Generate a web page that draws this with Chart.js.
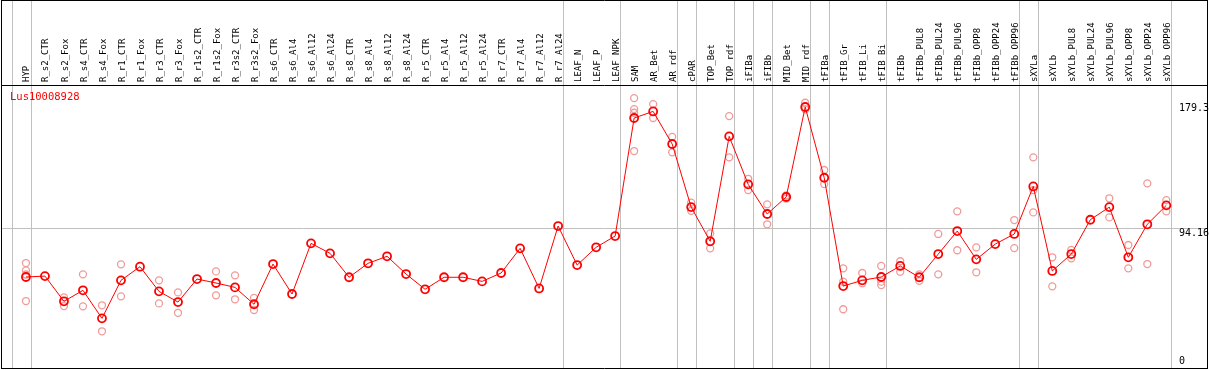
<!DOCTYPE html>
<html>
<head>
<meta charset="utf-8">
<title>Lus10008928</title>
<script src="https://cdn.jsdelivr.net/npm/chart.js@4.4.1/dist/chart.umd.min.js"></script>
<style>
  body { margin: 0; background: #fff; }
  canvas { display: block; }
</style>
</head>
<body>
<canvas id="exprChart" width="1209" height="370"></canvas>
<script>
const geneId = 'Lus10008928';

const samples = [
  'HYP', 'R_s2_CTR', 'R_s2_Fox', 'R_s4_CTR', 'R_s4_Fox', 'R_r1_CTR', 'R_r1_Fox', 'R_r3_CTR', 'R_r3_Fox',
  'R_r1s2_CTR', 'R_r1s2_Fox', 'R_r3s2_CTR', 'R_r3s2_Fox', 'R_s6_CTR', 'R_s6_Al4', 'R_s6_Al12', 'R_s6_Al24',
  'R_s8_CTR', 'R_s8_Al4', 'R_s8_Al12', 'R_s8_Al24', 'R_r5_CTR', 'R_r5_Al4', 'R_r5_Al12', 'R_r5_Al24',
  'R_r7_CTR', 'R_r7_Al4', 'R_r7_Al12', 'R_r7_Al24', 'LEAF_N', 'LEAF_P', 'LEAF_NPK', 'SAM', 'AR_Bet', 'AR_rdf',
  'cPAR', 'TOP_Bet', 'TOP_rdf', 'iFIBa', 'iFIBb', 'MID_Bet', 'MID_rdf', 'tFIBa', 'tFIB_Gr', 'tFIB_Li', 'tFIB_Bi',
  'tFIBb', 'tFIBb_PUL8', 'tFIBb_PUL24', 'tFIBb_PUL96', 'tFIBb_OPP8', 'tFIBb_OPP24', 'tFIBb_OPP96',
  'sXYLa', 'sXYLb', 'sXYLb_PUL8', 'sXYLb_PUL24', 'sXYLb_PUL96', 'sXYLb_OPP8', 'sXYLb_OPP24', 'sXYLb_OPP96'
];

// mean expression per sample
const meanExpr = [
  60.8, 61.4, 44.2, 51.7, 32.6, 58.5, 67.8, 51.0, 43.7, 59.4, 56.7, 53.7, 42.2,
  69.6, 49.2, 83.7, 76.9, 60.6, 70.1, 74.9, 62.8, 52.4, 60.6, 60.6, 57.8, 63.5, 80.3, 53.0, 95.5,
  68.9, 81.0, 88.7, 169.1, 173.6, 151.4, 108.4, 85.1, 156.6, 123.9, 103.7, 115.3, 176.6, 128.4,
  54.6, 58.5, 60.8, 68.3, 60.6, 76.4, 92.1, 72.8, 83.2, 90.1,
  122.5, 64.9, 76.4, 99.8, 108.4, 74.2, 96.7, 109.6
];

// individual replicates (null = not shown)
const rep1 = [
  70.3, null, 46.9, 62.6, 41.5, 69.4, null, 58.5, 50.3, null, 64.6, 61.9, 46.5,
  null, null, null, null, null, null, null, null, null, null, null, null, null, null, null, null,
  null, null, null, 182.7, 178.6, 156.3, 111.4, 90.5, 170.4, 127.7, 110.3, 116.3, 179.5, 133.7,
  66.7, 63.5, 68.3, 71.5, 62.6, 90.1, 105.5, 81.0, null, 99.6,
  142.3, 74.2, 79.2, null, 114.4, 82.6, 124.6, 113.2
];
const rep2 = [
  44.4, null, 41.0, 40.8, 23.8, 47.6, null, 42.8, 36.4, null, 48.3, 45.6, 38.3,
  null, null, null, null, null, null, null, null, null, null, null, null, null, null, null, null,
  null, null, null, 146.6, 169.1, 145.7, 105.9, 80.3, 142.3, 120.0, 96.7, 114.2, 175.0, 124.1,
  38.8, 56.5, 55.3, 64.4, 58.2, 62.6, 79.0, 64.0, null, 80.5,
  104.8, 54.4, 73.5, null, 101.4, 66.7, 69.6, 105.5
];
const rep3 = [
  65.3, null, null, null, null, null, null, null, null, null, null, null, null,
  null, null, null, null, null, null, null, null, null, null, null, null, null, null, null, null,
  null, null, null, 175.2, null, null, null, null, null, null, null, null, null, null,
  57.6, null, 57.6, null, null, null, null, null, null, null,
  120.0, null, null, null, null, null, null, null
];
const rep4 = [
  62.5, null, null, null, null, null, null, null, null, null, null, null, null,
  null, null, null, null, null, null, null, null, null, null, null, null, null, null, null, null,
  null, null, null, 172.7, null, null, null, null, null, null, null, null, null, null,
  null, null, null, null, null, null, null, null, null, null,
  null, null, null, null, null, null, null, null
];

const yTicks = [0, 94.16, 179.3];
// sample index after which a grey separator is drawn
const groupEnds = [-1, 0, 28, 31, 34, 35, 37, 38, 39, 41, 42, 45, 52, 53, 60];

const toXY = arr => arr.map((v, i) => ({ x: i, y: v }));

const frame = {
  id: 'frame',
  beforeDraw(chart) {
    const ctx = chart.ctx;
    ctx.save();
    ctx.fillStyle = '#fff';
    ctx.fillRect(0, 0, chart.width, chart.height);
    ctx.restore();
  },
  beforeDatasetsDraw(chart) {
    const { ctx, chartArea, scales } = chart;
    ctx.save();
    ctx.strokeStyle = '#c0c0c0';
    ctx.lineWidth = 1;
    groupEnds.forEach(g => {
      const x = Math.round(scales.x.getPixelForValue(g + 0.25)) + 0.5;
      ctx.beginPath();
      ctx.moveTo(x, 0);
      ctx.lineTo(x, chartArea.bottom);
      ctx.stroke();
    });
    ctx.restore();
  },
  afterDraw(chart) {
    const { ctx, chartArea } = chart;
    ctx.save();
    ctx.strokeStyle = '#000';
    ctx.lineWidth = 1;
    ctx.beginPath();
    ctx.moveTo(1.5, 0.5); ctx.lineTo(chartArea.right + 0.5, 0.5);
    ctx.moveTo(1.5, 0); ctx.lineTo(1.5, chartArea.bottom);
    ctx.moveTo(chartArea.right + 0.5, 0); ctx.lineTo(chartArea.right + 0.5, chartArea.bottom);
    ctx.moveTo(1.5, chartArea.top + 0.5); ctx.lineTo(chartArea.right + 0.5, chartArea.top + 0.5);
    ctx.moveTo(1.5, chartArea.bottom - 0.5); ctx.lineTo(chartArea.right + 0.5, chartArea.bottom - 0.5);
    ctx.stroke();

    // gene id in the corner
    ctx.fillStyle = '#ff0000';
    ctx.font = '10.5px "DejaVu Sans Mono"';
    ctx.textBaseline = 'top';
    ctx.fillText(geneId, chartArea.left + 8, chartArea.top + 7);
    ctx.restore();
  }
};

const repStyle = {
  showLine: false,
  borderColor: '#f09a9a',
  backgroundColor: 'rgba(0,0,0,0)',
  pointRadius: 3.5,
  pointBorderWidth: 1.3,
  order: 1
};

new Chart(document.getElementById('exprChart'), {
  type: 'line',
  data: {
    datasets: [
      {
        label: 'mean',
        data: toXY(meanExpr),
        borderColor: '#ff0000',
        borderWidth: 1,
        pointRadius: 4,
        pointBorderWidth: 1.8,
        pointBorderColor: '#ff0000',
        pointBackgroundColor: 'rgba(0,0,0,0)',
        tension: 0,
        order: 0
      },
      { label: 'rep1', data: toXY(rep1), ...repStyle },
      { label: 'rep2', data: toXY(rep2), ...repStyle },
      { label: 'rep3', data: toXY(rep3), ...repStyle },
      { label: 'rep4', data: toXY(rep4), ...repStyle }
    ]
  },
  plugins: [frame],
  options: {
    responsive: false,
    animation: false,
    layout: { autoPadding: false, padding: { left: 2, right: 2, top: 0, bottom: 1 } },
    plugins: {
      legend: { display: false },
      tooltip: { enabled: false }
    },
    scales: {
      x: {
        type: 'linear',
        position: 'top',
        min: -1.26,
        max: 62.14,
        afterBuildTicks: s => { s.ticks = samples.map((_, i) => ({ value: i })); },
        afterFit: s => { s.height = 85; s.paddingLeft = 0; s.paddingRight = 0; },
        grid: { display: false, drawTicks: false },
        border: { display: false },
        ticks: {
          autoSkip: false,
          minRotation: 90,
          maxRotation: 90,
          padding: 3,
          labelOffset: 12,
          color: '#000',
          font: { family: 'DejaVu Sans Mono', size: 9 },
          callback: v => samples[v]
        }
      },
      y: {
        position: 'right',
        min: -1.9,
        max: 191.6,
        afterBuildTicks: s => { s.ticks = yTicks.map(v => ({ value: v })); },
        afterFit: s => { s.width = 0; s.paddingTop = 0; s.paddingBottom = 0; },
        grid: {
          drawTicks: false,
          color: c => (c.tick && c.tick.value === 94.16) ? '#c0c0c0' : 'rgba(0,0,0,0)'
        },
        border: { display: false },
        ticks: {
          mirror: true,
          crossAlign: 'far',
          padding: 2,
          color: '#000',
          font: { family: 'DejaVu Sans Mono', size: 10, lineHeight: 1 },
          callback: v => v === 0 ? [String(v), ''] : ['', String(v)]
        }
      }
    }
  }
});
</script>
</body>
</html>
